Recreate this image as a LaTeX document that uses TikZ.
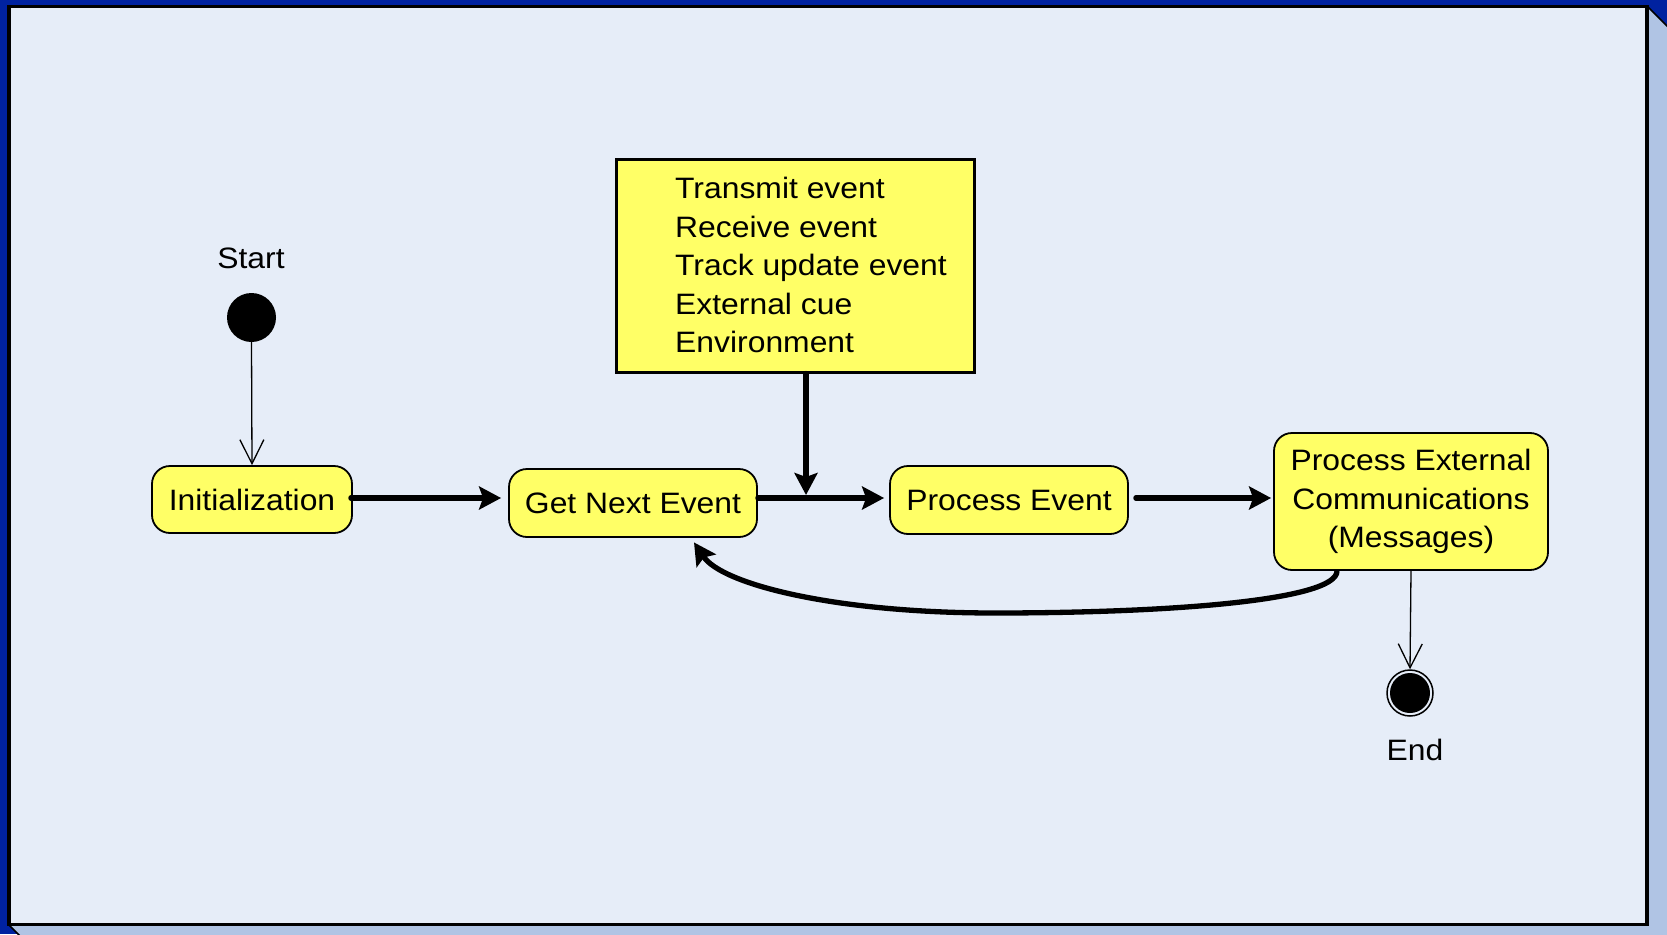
\documentclass[tikz,border=0pt]{standalone}
\usepackage{fontspec}
\setmainfont{Liberation Sans}[FakeStretch=1.08]
\usetikzlibrary{arrows.meta}
\definecolor{frameblue}{HTML}{0022A0}
\definecolor{panel}{HTML}{E6EDF8}
\definecolor{bevel}{HTML}{B0C4E4}
\definecolor{stateyellow}{HTML}{FFFF66}
\begin{document}
\begin{tikzpicture}[x=1pt,y=-1pt,
  statebox/.style={draw=black, line width=1.8pt, fill=stateyellow, rounded corners=18pt,
    font=\fontsize{29.5}{38.5}\selectfont, align=center, inner sep=0pt},
  flow/.style={line width=5.3pt, line cap=round, -{Stealth[length=22pt,width=23pt,inset=4pt]}},
  ctrl/.style={line width=1.3pt, -{Straight Barb[length=24pt,width=24pt]}},
  lbl/.style={font=\fontsize{29.5}{38.5}\selectfont, inner sep=0pt}]
% frame
\fill[frameblue] (0,0) rectangle (1667,934);
\useasboundingbox (0,0) rectangle (1667,934);
\begin{scope}
  \clip (0,0) rectangle (1667,934);
  \filldraw[fill=bevel, draw=black, line width=1.5pt]
    (1647,6) -- (1687,46) -- (1687,960) -- (44,960) -- (9,925) -- cycle;
\end{scope}
\filldraw[fill=panel, draw=black, line width=3.5pt] (9,6.5) rectangle (1647,924.5);

% start / end
\node[lbl] (startlbl) at (251,258) {Start};
\node[circle, fill=black, minimum size=49pt, inner sep=0pt] (start) at (251.5,317.5) {};
\node[circle, draw=black, line width=1.5pt, fill=panel, minimum size=46pt, inner sep=0pt] (endo) at (1410,693) {};
\node[circle, fill=black, minimum size=40pt, inner sep=0pt] (endi) at (1410,693) {};
\node[lbl] (endlbl) at (1415,750) {End};

% states
\node[statebox, minimum width=200pt, minimum height=67pt] (init) at (252,499.5) {Initialization};
\node[statebox, minimum width=248pt, minimum height=68pt] (gne) at (633,503) {Get Next Event};
\node[statebox, minimum width=238pt, minimum height=68pt] (pe) at (1009,500) {Process Event};
\node[statebox, minimum width=274pt, minimum height=137pt] (pec) at (1411,501.5)
  {Process External\\Communications\\(Messages)};

% events box
\node[draw=black, line width=3pt, fill=stateyellow, minimum width=358pt, minimum height=213pt, inner sep=0pt] (events) at (795,265.5) {};
\node[lbl, align=left, anchor=west] (evtext) at (675,265)
  {Transmit event\\Receive event\\Track update event\\External cue\\Environment};

\coordinate (join) at (806,498);
\coordinate (back) at (995,613);

% connectors
\draw[ctrl] (start.south) -- (init.north);
\draw[ctrl] (pec.south) -- (endo.north);
\draw[flow] ([shift={(-2,-1.5)}]init.east) -- ([shift={(-7,-5)}]gne.west);
\draw[flow] ([shift={(0,-5)}]gne.east) -- ([shift={(-5,-2)}]pe.west);
\draw[flow] ([shift={(7,-2)}]pe.east) -- ([shift={(-2,-3.5)}]pec.west);
\draw[flow] ([shift={(11,0)}]events.south) -- ([shift={(0,-3)}]join);
\draw[flow, line cap=butt]
  ([shift={(-74,0)}]pec.south) .. controls +(0,30) and +(170,0) .. (back)
  .. controls +(-160,0) and +(28,42) .. ([shift={(61,4.5)}]gne.south);
\end{tikzpicture}
\end{document}
